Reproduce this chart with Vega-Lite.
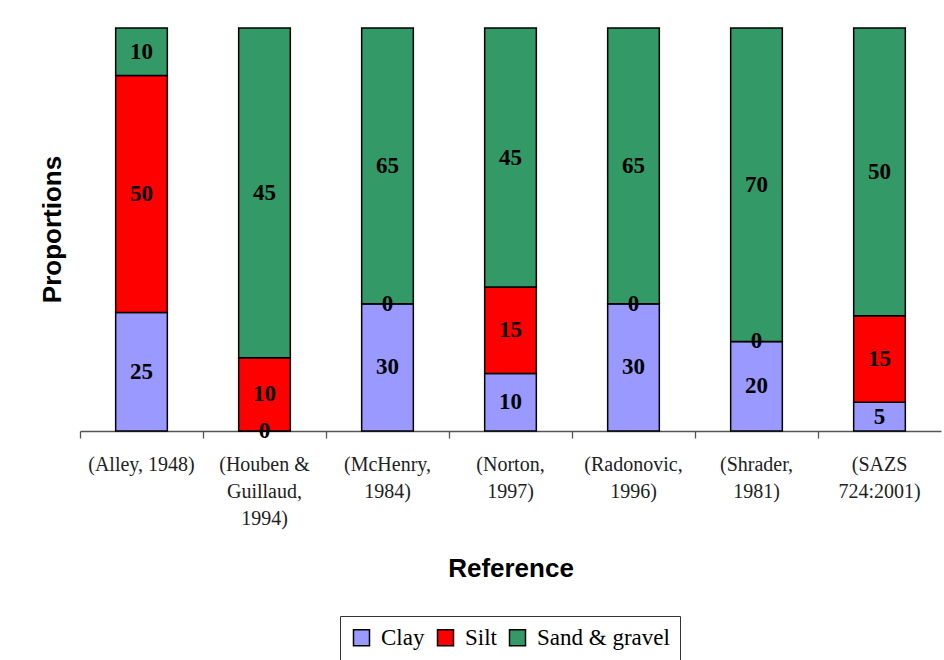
{
  "$schema": "https://vega.github.io/schema/vega-lite/v6.json",
  "width": 861,
  "height": 403,
  "autosize": "none",
  "padding": {"left": 80, "top": 28, "right": 3, "bottom": 229},
  "background": "white",
  "config": {"view": {"stroke": null}},
  "data": {
    "values": [
      {"ref": "(Alley, 1948)", "comp": "Clay", "o": 1, "v": 25},
      {"ref": "(Alley, 1948)", "comp": "Silt", "o": 2, "v": 50},
      {"ref": "(Alley, 1948)", "comp": "Sand & gravel", "o": 3, "v": 10},
      {"ref": "(Houben & Guillaud, 1994)", "comp": "Clay", "o": 1, "v": 0},
      {"ref": "(Houben & Guillaud, 1994)", "comp": "Silt", "o": 2, "v": 10},
      {"ref": "(Houben & Guillaud, 1994)", "comp": "Sand & gravel", "o": 3, "v": 45},
      {"ref": "(McHenry, 1984)", "comp": "Clay", "o": 1, "v": 30},
      {"ref": "(McHenry, 1984)", "comp": "Silt", "o": 2, "v": 0},
      {"ref": "(McHenry, 1984)", "comp": "Sand & gravel", "o": 3, "v": 65},
      {"ref": "(Norton, 1997)", "comp": "Clay", "o": 1, "v": 10},
      {"ref": "(Norton, 1997)", "comp": "Silt", "o": 2, "v": 15},
      {"ref": "(Norton, 1997)", "comp": "Sand & gravel", "o": 3, "v": 45},
      {"ref": "(Radonovic, 1996)", "comp": "Clay", "o": 1, "v": 30},
      {"ref": "(Radonovic, 1996)", "comp": "Silt", "o": 2, "v": 0},
      {"ref": "(Radonovic, 1996)", "comp": "Sand & gravel", "o": 3, "v": 65},
      {"ref": "(Shrader, 1981)", "comp": "Clay", "o": 1, "v": 20},
      {"ref": "(Shrader, 1981)", "comp": "Silt", "o": 2, "v": 0},
      {"ref": "(Shrader, 1981)", "comp": "Sand & gravel", "o": 3, "v": 70},
      {"ref": "(SAZS 724:2001)", "comp": "Clay", "o": 1, "v": 5},
      {"ref": "(SAZS 724:2001)", "comp": "Silt", "o": 2, "v": 15},
      {"ref": "(SAZS 724:2001)", "comp": "Sand & gravel", "o": 3, "v": 50}
    ]
  },
  "transform": [
    {"stack": "v", "groupby": ["ref"], "sort": [{"field": "o"}], "offset": "normalize", "as": ["y0", "y1"]},
    {"calculate": "(datum.y0 + datum.y1) / 2", "as": "ym"}
  ],
  "encoding": {
    "x": {
      "field": "ref",
      "type": "nominal",
      "sort": null,
      "scale": {"paddingInner": 0, "paddingOuter": 0},
      "axis": {
        "title": "Reference",
        "titleFont": "Liberation Sans",
        "titleFontSize": 26,
        "titleFontWeight": "bold",
        "titleColor": "black",
        "titleBaseline": "middle",
        "titleY": 137,
        "labelAngle": 0,
        "labelFont": "Liberation Serif",
        "labelFontSize": 20,
        "labelColor": "#222",
        "labelBaseline": "top",
        "labelPadding": 16,
        "labelLineHeight": 27,
        "labelExpr": "datum.value == '(Alley, 1948)' ? datum.value : datum.value == '(Houben & Guillaud, 1994)' ? ['(Houben &', 'Guillaud,', '1994)'] : split(datum.value, ' ')",
        "bandPosition": 0,
        "tickSize": 7,
        "tickColor": "#555",
        "domainColor": "#555",
        "tickWidth": 1.3,
        "domainWidth": 1.3,
        "labelBound": false,
        "labelOverlap": false
      }
    }
  },
  "layer": [
    {
      "mark": {"type": "bar", "width": {"band": 0.42}, "stroke": "black", "strokeWidth": 1.5},
      "encoding": {
        "y": {
          "field": "y0",
          "type": "quantitative",
          "scale": {"domain": [0, 1], "nice": false, "zero": true},
          "axis": {
            "title": "Proportions",
            "titleFont": "Liberation Sans",
            "titleFontSize": 26,
            "titleFontWeight": "bold",
            "titleColor": "black",
            "titleBaseline": "middle",
            "titleAngle": -90,
            "titleX": -28,
            "titleY": 201,
            "labels": false,
            "ticks": false,
            "domain": false,
            "grid": false
          }
        },
        "y2": {"field": "y1"},
        "color": {
          "field": "comp",
          "type": "nominal",
          "scale": {"domain": ["Clay", "Silt", "Sand & gravel"], "range": ["#9999FF", "#FF0000", "#339966"]},
          "legend": {
            "title": null,
            "orient": "none",
            "direction": "horizontal",
            "legendX": 260,
            "legendY": 588,
            "strokeColor": "#333",
            "padding": 10,
            "symbolType": "square",
            "symbolSize": 256,
            "symbolStrokeColor": "black",
            "symbolStrokeWidth": 1.5,
            "symbolOpacity": 1,
            "labelFont": "Liberation Serif",
            "labelFontSize": 23,
            "labelColor": "black",
            "labelOffset": 8,
            "columnPadding": 9,
            "symbolOffset": 0
          }
        },
        "order": {"field": "o"}
      }
    },
    {
      "mark": {"type": "text", "font": "Liberation Serif", "fontWeight": "bold", "fontSize": 23, "baseline": "middle", "align": "center", "color": "black"},
      "encoding": {
        "y": {"field": "ym", "type": "quantitative"},
        "text": {"field": "v", "type": "quantitative"}
      }
    }
  ]
}
